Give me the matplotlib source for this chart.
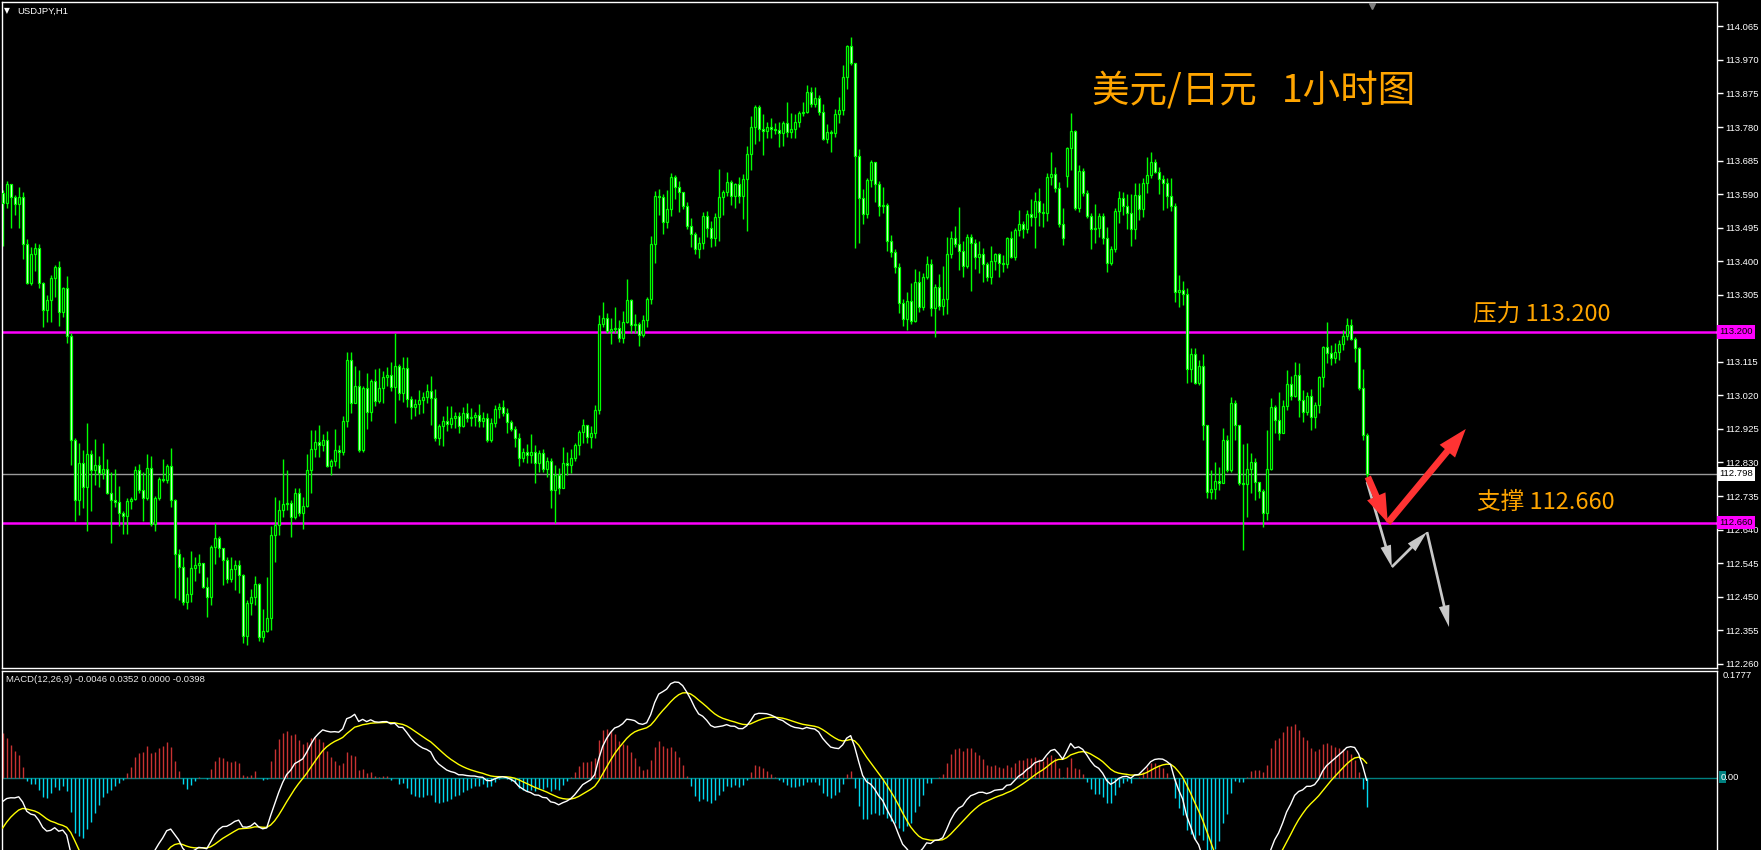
import numpy as np
import matplotlib
matplotlib.use("Agg")
import matplotlib.pyplot as plt
from matplotlib.patches import FancyArrowPatch, Rectangle, ArrowStyle

# ---------------- data (USDJPY H1) ----------------
first_open = 113.593
gap_opens = {266: 113.642}

closes = [
    113.565, 113.619, 113.582, 113.562, 113.582, 113.449, 113.339, 113.421, 113.438, 113.339,
    113.262, 113.290, 113.353, 113.384, 113.256, 113.324, 113.188, 112.894, 112.724, 112.829,
    112.761, 112.854, 112.809, 112.823, 112.800, 112.812, 112.744, 112.724, 112.718, 112.687,
    112.679, 112.721, 112.727, 112.809, 112.752, 112.730, 112.815, 112.656, 112.730, 112.783,
    112.781, 112.820, 112.724, 112.571, 112.534, 112.435, 112.458, 112.531, 112.540, 112.546,
    112.478, 112.449, 112.591, 112.616, 112.588, 112.554, 112.500, 112.529, 112.540, 112.512,
    112.339, 112.432, 112.449, 112.486, 112.336, 112.353, 112.390, 112.625, 112.653, 112.696,
    112.713, 112.716, 112.676, 112.744, 112.687, 112.707, 112.809, 112.868, 112.888, 112.880,
    112.894, 112.820, 112.834, 112.866, 112.860, 112.948, 113.120, 112.999, 113.047, 112.866,
    113.041, 112.973, 113.061, 113.004, 113.041, 113.072, 113.078, 113.044, 113.104, 113.027,
    113.098, 113.010, 112.987, 112.996, 113.007, 113.016, 113.033, 113.013, 112.900, 112.934,
    112.948, 112.939, 112.956, 112.962, 112.934, 112.970, 112.956, 112.959, 112.965, 112.948,
    112.956, 112.894, 112.942, 112.982, 112.987, 112.970, 112.945, 112.925, 112.900, 112.843,
    112.860, 112.851, 112.860, 112.829, 112.857, 112.812, 112.834, 112.752, 112.795, 112.758,
    112.829, 112.823, 112.843, 112.880, 112.917, 112.936, 112.902, 112.914, 112.979, 113.222,
    113.239, 113.203, 113.208, 113.211, 113.183, 113.228, 113.290, 113.220, 113.222, 113.191,
    113.234, 113.293, 113.449, 113.585, 113.582, 113.511, 113.548, 113.639, 113.610, 113.596,
    113.557, 113.500, 113.477, 113.435, 113.452, 113.528, 113.494, 113.466, 113.526, 113.582,
    113.596, 113.625, 113.585, 113.619, 113.585, 113.633, 113.704, 113.780, 113.837, 113.775,
    113.769, 113.780, 113.775, 113.772, 113.763, 113.792, 113.766, 113.775, 113.795, 113.820,
    113.823, 113.880, 113.846, 113.863, 113.823, 113.746, 113.766, 113.763, 113.817, 113.829,
    113.922, 114.010, 113.962, 113.698, 113.579, 113.534, 113.630, 113.681, 113.619, 113.557,
    113.559, 113.458, 113.426, 113.384, 113.282, 113.237, 113.288, 113.231, 113.341, 113.271,
    113.356, 113.392, 113.268, 113.327, 113.273, 113.293, 113.421, 113.466, 113.449, 113.429,
    113.387, 113.469, 113.452, 113.412, 113.421, 113.392, 113.356, 113.401, 113.421, 113.395,
    113.392, 113.466, 113.412, 113.489, 113.506, 113.491, 113.534, 113.526, 113.571, 113.540,
    113.537, 113.639, 113.647, 113.608, 113.506, 113.466, 113.721, 113.769, 113.551, 113.656,
    113.593, 113.528, 113.491, 113.494, 113.528, 113.466, 113.395, 113.435, 113.542, 113.579,
    113.557, 113.537, 113.491, 113.588, 113.548, 113.622, 113.644, 113.681, 113.653, 113.633,
    113.622, 113.585, 113.557, 113.313, 113.319, 113.307, 113.095, 113.138, 113.055, 113.104,
    112.936, 112.747, 112.755, 112.778, 112.772, 112.894, 112.809, 112.999, 112.936, 112.772,
    112.769, 112.812, 112.832, 112.775, 112.750, 112.687, 112.812, 112.987, 112.951, 112.914,
    112.990, 113.053, 113.019, 113.078, 113.007, 112.973, 113.019, 112.959, 112.993, 113.072,
    113.157, 113.140, 113.126, 113.143, 113.166, 113.188, 113.220, 113.180, 113.155, 113.041,
    112.908, 112.798,
]

highs = [
    113.602, 113.627, 113.619, 113.588, 113.610, 113.596, 113.463, 113.440, 113.452, 113.449,
    113.341, 113.305, 113.361, 113.390, 113.401, 113.327, 113.358, 113.197, 112.900, 112.885,
    112.866, 112.942, 112.866, 112.897, 112.849, 112.885, 112.840, 112.803, 112.812, 112.764,
    112.693, 112.730, 112.733, 112.820, 112.826, 112.803, 112.854, 112.849, 112.735, 112.789,
    112.840, 112.826, 112.871, 112.727, 112.585, 112.563, 112.506, 112.580, 112.563, 112.571,
    112.540, 112.506, 112.597, 112.659, 112.622, 112.588, 112.563, 112.563, 112.554, 112.554,
    112.514, 112.441, 112.472, 112.509, 112.489, 112.415, 112.506, 112.650, 112.733, 112.724,
    112.840, 112.809, 112.724, 112.758, 112.758, 112.733, 112.854, 112.922, 112.922, 112.936,
    112.911, 112.919, 112.840, 112.925, 112.880, 112.962, 113.143, 113.143, 113.104, 113.092,
    113.047, 113.084, 113.067, 113.095, 113.098, 113.089, 113.101, 113.115, 113.197, 113.109,
    113.129, 113.129, 113.019, 113.010, 113.036, 113.030, 113.053, 113.075, 113.038, 112.939,
    112.962, 112.990, 112.990, 112.973, 112.973, 112.987, 112.999, 112.985, 112.973, 112.996,
    112.973, 112.970, 112.956, 112.993, 112.999, 113.007, 112.985, 112.951, 112.934, 112.914,
    112.871, 112.883, 112.911, 112.880, 112.866, 112.868, 112.846, 112.843, 112.823, 112.815,
    112.874, 112.860, 112.868, 112.885, 112.922, 112.953, 112.928, 112.934, 112.993, 113.248,
    113.285, 113.254, 113.239, 113.271, 113.234, 113.259, 113.350, 113.293, 113.251, 113.228,
    113.248, 113.299, 113.472, 113.599, 113.605, 113.591, 113.602, 113.650, 113.644, 113.627,
    113.591, 113.568, 113.523, 113.483, 113.469, 113.540, 113.542, 113.514, 113.537, 113.661,
    113.602, 113.653, 113.630, 113.622, 113.639, 113.647, 113.727, 113.812, 113.843, 113.843,
    113.817, 113.795, 113.806, 113.792, 113.795, 113.797, 113.851, 113.820, 113.817, 113.826,
    113.851, 113.899, 113.894, 113.894, 113.871, 113.846, 113.789, 113.772, 113.831, 113.865,
    113.956, 114.013, 114.035, 113.962, 113.718, 113.605, 113.636, 113.687, 113.670, 113.627,
    113.610, 113.565, 113.475, 113.435, 113.395, 113.293, 113.313, 113.339, 113.378, 113.373,
    113.367, 113.415, 113.407, 113.336, 113.364, 113.387, 113.469, 113.486, 113.500, 113.554,
    113.458, 113.477, 113.477, 113.463, 113.458, 113.438, 113.398, 113.443, 113.424, 113.424,
    113.418, 113.469, 113.486, 113.494, 113.545, 113.514, 113.545, 113.576, 113.596, 113.608,
    113.565, 113.650, 113.710, 113.667, 113.625, 113.551, 113.724, 113.820, 113.772, 113.673,
    113.664, 113.602, 113.537, 113.562, 113.537, 113.537, 113.497, 113.443, 113.551, 113.599,
    113.596, 113.591, 113.591, 113.622, 113.622, 113.636, 113.695, 113.710, 113.690, 113.667,
    113.644, 113.636, 113.636, 113.565, 113.361, 113.344, 113.324, 113.155, 113.155, 113.120,
    113.138, 112.936, 112.809, 112.832, 112.817, 112.928, 112.908, 113.016, 113.007, 112.934,
    112.883, 112.885, 112.857, 112.843, 112.775, 112.755, 112.922, 113.013, 112.993, 113.030,
    113.007, 113.092, 113.075, 113.115, 113.112, 113.036, 113.030, 113.038, 113.002, 113.075,
    113.160, 113.228, 113.163, 113.169, 113.177, 113.205, 113.239, 113.237, 113.186, 113.157,
    113.095, 112.914,
]

lows = [
    113.443, 113.551, 113.494, 113.531, 113.494, 113.407, 113.336, 113.333, 113.373, 113.324,
    113.214, 113.228, 113.228, 113.299, 113.217, 113.242, 113.169, 112.823, 112.665, 112.682,
    112.701, 112.636, 112.693, 112.767, 112.761, 112.783, 112.741, 112.602, 112.704, 112.650,
    112.628, 112.628, 112.699, 112.724, 112.744, 112.665, 112.724, 112.650, 112.636, 112.724,
    112.775, 112.772, 112.704, 112.446, 112.441, 112.427, 112.415, 112.435, 112.495, 112.517,
    112.475, 112.393, 112.427, 112.543, 112.563, 112.483, 112.489, 112.492, 112.469, 112.461,
    112.319, 112.313, 112.398, 112.427, 112.325, 112.322, 112.350, 112.356, 112.548, 112.625,
    112.676, 112.696, 112.619, 112.670, 112.679, 112.642, 112.704, 112.744, 112.846, 112.846,
    112.863, 112.817, 112.795, 112.820, 112.815, 112.851, 112.931, 112.970, 112.999, 112.860,
    112.860, 112.925, 112.948, 112.990, 112.999, 112.999, 113.047, 113.033, 112.942, 113.007,
    113.002, 112.987, 112.953, 112.962, 112.968, 112.970, 112.999, 112.936, 112.891, 112.880,
    112.877, 112.919, 112.928, 112.928, 112.914, 112.931, 112.945, 112.934, 112.934, 112.931,
    112.931, 112.888, 112.888, 112.931, 112.956, 112.962, 112.914, 112.919, 112.874, 112.820,
    112.832, 112.829, 112.829, 112.772, 112.803, 112.803, 112.789, 112.701, 112.659, 112.741,
    112.758, 112.795, 112.800, 112.834, 112.851, 112.885, 112.885, 112.871, 112.900, 112.968,
    113.214, 113.197, 113.166, 113.197, 113.171, 113.169, 113.225, 113.197, 113.197, 113.160,
    113.186, 113.214, 113.279, 113.395, 113.531, 113.477, 113.494, 113.528, 113.576, 113.540,
    113.548, 113.491, 113.440, 113.421, 113.409, 113.435, 113.469, 113.440, 113.443, 113.458,
    113.531, 113.585, 113.559, 113.551, 113.565, 113.520, 113.486, 113.659, 113.732, 113.741,
    113.701, 113.749, 113.749, 113.760, 113.724, 113.727, 113.752, 113.749, 113.749, 113.780,
    113.812, 113.820, 113.837, 113.837, 113.814, 113.744, 113.735, 113.710, 113.752, 113.792,
    113.814, 113.888, 113.956, 113.438, 113.452, 113.506, 113.523, 113.610, 113.568, 113.528,
    113.537, 113.429, 113.412, 113.367, 113.254, 113.217, 113.205, 113.222, 113.228, 113.256,
    113.262, 113.350, 113.245, 113.186, 113.262, 113.248, 113.251, 113.409, 113.440, 113.375,
    113.356, 113.381, 113.316, 113.378, 113.367, 113.341, 113.344, 113.336, 113.375, 113.356,
    113.370, 113.381, 113.409, 113.404, 113.472, 113.466, 113.480, 113.500, 113.438, 113.500,
    113.497, 113.514, 113.616, 113.596, 113.497, 113.446, 113.610, 113.659, 113.545, 113.540,
    113.585, 113.523, 113.435, 113.452, 113.469, 113.449, 113.370, 113.390, 113.426, 113.509,
    113.531, 113.491, 113.443, 113.463, 113.517, 113.526, 113.593, 113.636, 113.650, 113.591,
    113.545, 113.551, 113.542, 113.285, 113.271, 113.276, 113.055, 113.058, 113.053, 113.050,
    112.894, 112.730, 112.727, 112.727, 112.752, 112.772, 112.803, 112.803, 112.894, 112.767,
    112.582, 112.676, 112.744, 112.724, 112.730, 112.648, 112.667, 112.809, 112.914, 112.894,
    112.914, 112.979, 113.007, 113.016, 112.959, 112.945, 112.965, 112.922, 112.928, 112.970,
    113.044, 113.112, 113.106, 113.112, 113.120, 113.149, 113.177, 113.177, 113.115, 113.036,
    112.894, 112.772,
]

price_ticks = [114.065, 113.970, 113.875, 113.780, 113.685, 113.590, 113.495, 113.400,
               113.305, 113.210, 113.115, 113.020, 112.925, 112.830, 112.735, 112.640,
               112.545, 112.450, 112.355, 112.260]
hidden_tick_labels = [113.210]   # covered by the resistance price tag
resistance = 113.200
support = 112.660
last_price = 112.798

# MACD settings and state carried in from the bars before the window
macd_fast, macd_slow, macd_signal = 12, 26, 9
ema_fast_seed, ema_slow_seed, signal_seed = 113.600, 113.640, -0.095
hist_gain = 1.7
macd_top = 0.1777
macd_header = "MACD(12,26,9) -0.0046 0.0352 0.0000 -0.0398"

# ---------------- figure ----------------
W, H = 1761, 850
plt.rcParams['font.family'] = ['Liberation Sans', 'DejaVu Sans']
fig = plt.figure(figsize=(W / 100, H / 100), dpi=100, facecolor='black')

def fr(x0, y0, x1, y1):
    return [x0 / W, 1 - y1 / H, (x1 - x0) / W, (y1 - y0) / H]

ax = fig.add_axes(fr(2, 2, 1717, 668))
axm = fig.add_axes(fr(2, 671, 1717, 851))

for a in (ax, axm):
    a.set_facecolor('black')
    for s in a.spines.values():
        s.set_color('white')
        s.set_linewidth(1.0)
axm.spines['bottom'].set_visible(False)

n = len(closes)
x = np.arange(n)
c = np.array(closes)
o = np.r_[first_open, c[:-1]]
for k, v in gap_opens.items():
    o[k] = v
hi = np.maximum(np.array(highs), np.maximum(o, c))
lo = np.minimum(np.array(lows), np.minimum(o, c))

ax.set_xlim(-0.175, 428.6)
ax.set_ylim(112.248, 114.134)

ax.vlines(x, lo, hi, color='#00FF00', lw=1.0, zorder=2)
bottom = np.minimum(o, c)
height = np.maximum(np.abs(c - o), 0.0015)
fills = np.where(c >= o, 'black', 'white')
ax.bar(x, height, bottom=bottom, width=0.5, color=fills, edgecolor='#00FF00',
       linewidth=0.9, zorder=3)

ax.axhline(resistance, color='#FF00FF', lw=1.8, zorder=1)
ax.axhline(support, color='#FF00FF', lw=1.8, zorder=1)
ax.axhline(last_price, color='#9A9A9A', lw=1.0, zorder=1)

ax.set_xticks([])
ax.yaxis.tick_right()
ax.set_yticks(price_ticks)
ax.set_yticklabels(["" if v in hidden_tick_labels else f"{v:.3f}" for v in price_ticks])
ax.tick_params(axis='y', direction='out', length=4, width=1, colors='white',
               labelsize=6.8, pad=2)

ytr = ax.get_yaxis_transform()
for val, bg, fg in [(resistance, '#FF00FF', 'black'), (support, '#FF00FF', 'black'),
                    (last_price, 'white', 'black')]:
    ax.text(1.0012, val, f"{val:.3f}", transform=ytr, ha='left', va='center',
            fontsize=6.8, color=fg, zorder=10, clip_on=False,
            bbox=dict(facecolor=bg, edgecolor='none', pad=1.6))

cjk = ['Noto Sans CJK SC', 'DejaVu Sans']
ax.text(272.3, 113.879, "美元/日元   1小时图", family=cjk, fontsize=27,
        color='#FFA500', ha='left', va='center', zorder=6)
ax.text(367.6, 113.248, "压力 113.200", family=cjk, fontsize=17,
        color='#FFA500', ha='left', va='center', zorder=6)
ax.text(368.6, 112.716, "支撑 112.660", family=cjk, fontsize=17,
        color='#FFA500', ha='left', va='center', zorder=6)

# forecast arrows
red_path = [(341.3, 112.789), (346.3, 112.659), (365.8, 112.925)]
gray_path = [(341.1, 112.775), (347.3, 112.534), (356.1, 112.633), (361.6, 112.364)]
red_style = ArrowStyle.Simple(head_length=1.3, head_width=0.9, tail_width=0.3)
for (p, q) in zip(red_path[:-1], red_path[1:]):
    ax.add_patch(FancyArrowPatch(p, q, arrowstyle=red_style, mutation_scale=16,
                                 color='#FF3333', lw=0, zorder=7,
                                 shrinkA=0, shrinkB=0))
gray_style = ArrowStyle.Simple(head_length=1.2, head_width=0.6, tail_width=0.15)
for (p, q) in zip(gray_path[:-1], gray_path[1:]):
    ax.add_patch(FancyArrowPatch(p, q, arrowstyle=gray_style, mutation_scale=13,
                                 color='#C8C8C8', lw=0, zorder=6,
                                 shrinkA=0, shrinkB=0))

# chart shift marker
ax.plot([0.7988], [0.994], marker='v', color='#7F7F7F', ms=5,
        transform=ax.transAxes, clip_on=False, zorder=8)

fig.text(4 / W, 1 - 11 / H, "\u25BC", color='white', fontsize=5.5, va='center',
         family=['DejaVu Sans'])
fig.text(17 / W, 1 - 11 / H, "USDJPY,H1", color='white', fontsize=6.8, va='center')

# ---------------- MACD ----------------
def ema(values, period, seed):
    a = 2.0 / (period + 1)
    out = np.empty(len(values))
    prev = seed
    for i, v in enumerate(values):
        prev = prev + a * (v - prev)
        out[i] = prev
    return out

macd = ema(c, macd_fast, ema_fast_seed) - ema(c, macd_slow, ema_slow_seed)
signal = ema(macd, macd_signal, signal_seed)
hist = hist_gain * (macd - signal)

axm.set_xlim(-0.175, 428.6)
axm.set_ylim(-0.1224, macd_top)
axm.set_xticks([])
axm.set_yticks([])
axm.axhline(0, color='#008080', lw=1.0, zorder=1)
pos = hist >= 0
axm.vlines(x[pos], 0, hist[pos], color='#C83232', lw=1.0, zorder=2)
axm.vlines(x[~pos], 0, hist[~pos], color='#00D8F0', lw=1.0, zorder=2)
axm.plot(x, signal, color='#FFFF00', lw=1.0, zorder=3)
axm.plot(x, macd, color='white', lw=1.0, zorder=4)

fig.text(6 / W, 1 - 680 / H, macd_header, color='#E8E8E8', fontsize=6.8, va='center')
ytm = axm.get_yaxis_transform()
axm.text(1.0035, macd_top, f"{macd_top:.4f}", transform=ytm, ha='left', va='top',
         fontsize=6.8, color='white', clip_on=False)
fig.patches.append(Rectangle((1719 / W, 1 - 783 / H), 7 / W, 12 / H,
                             transform=fig.transFigure, facecolor='#008080',
                             edgecolor='none', zorder=-1))
fig.text(1721 / W, 1 - 777 / H, "0.00", ha='left', va='center',
         fontsize=6.8, color='white', zorder=5)

fig.savefig("out.png", dpi=100, facecolor='black')
